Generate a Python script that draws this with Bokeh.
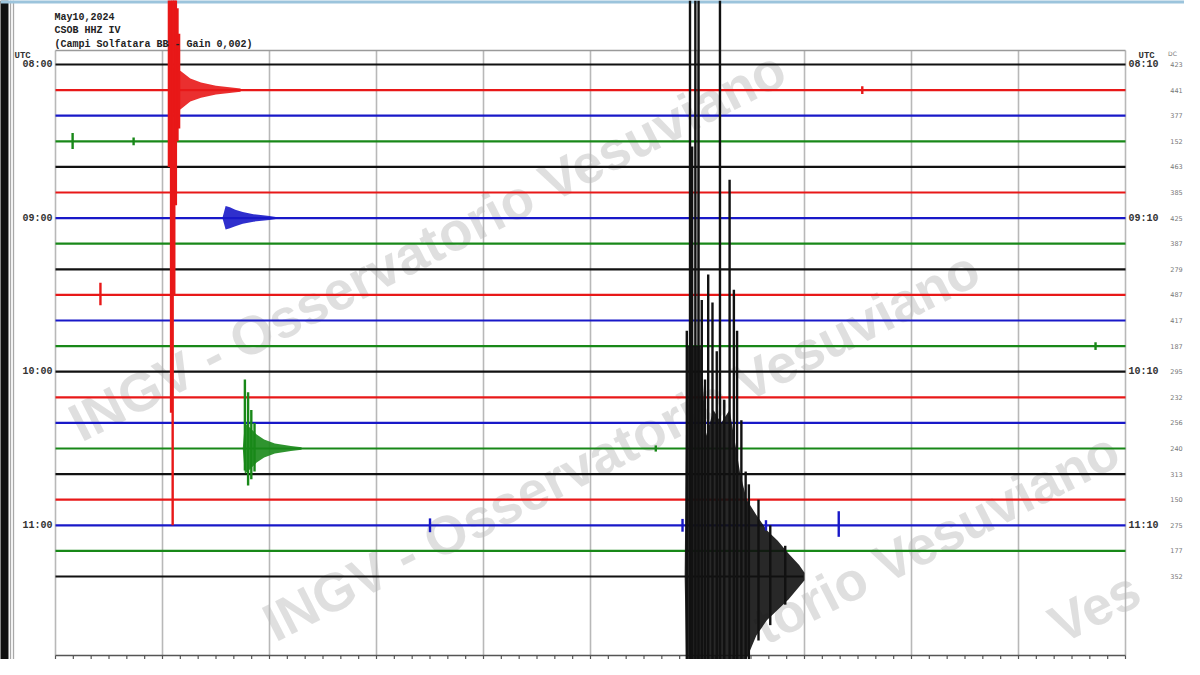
import numpy as np
from bokeh.plotting import figure
from bokeh.models import Range1d, ColumnDataSource
from bokeh.embed import file_html
from bokeh.resources import INLINE
from bokeh.core.properties import value

# ------------------------------------------------------------------ data
header_lines = ["May10,2024", "CSOB HHZ IV", "(Campi Solfatara BB - Gain 0,002)"]
row_count = 21
row_minutes = 10
last_row_end = 6.99            # minutes recorded on the last (current) row
hour_rows = [0, 6, 12, 18]
start_labels = ["08:00", "09:00", "10:00", "11:00"]
end_labels = ["08:10", "09:10", "10:10", "11:10"]
dc_values = [423, 441, 377, 152, 463, 385, 425, 387, 279, 487, 417,
             187, 295, 232, 256, 240, 313, 150, 275, 177, 352]
trace_colors = ["#111111", "#e81818", "#1818c8", "#188818"]
watermark_texts = ["INGV - Osservatorio Vesuviano", "INGV - Osservatorio Vesuviano",
                   "torio Vesuviano", "Ves"]

# spikes: row, minute, amplitude up, amplitude down (in trace spacings)
spike_row = [1, 1, 1, 1, 1, 1, 1,
             20, 20, 20, 20, 20, 20, 20, 20, 20, 20, 20, 20, 20, 20, 20, 20, 20, 20, 20, 20, 20,
             15, 15, 15, 15,
             3, 3, 9, 18, 18, 18, 18, 1, 11, 15]
spike_min = [1.06, 1.08, 1.095, 1.11, 1.125, 1.14, 1.155,
             5.90, 5.93, 5.95, 5.98, 6.01, 6.04, 6.07, 6.10, 6.14, 6.18, 6.21, 6.25, 6.30, 6.34, 6.37, 6.41, 6.45, 6.48, 6.57, 6.68, 6.82,
             1.77, 1.80, 1.83, 1.86,
             0.16, 0.73, 0.42, 3.50, 5.86, 6.64, 7.32, 7.54, 9.72, 5.61]
spike_up = [3.6, 3.6, 3.6, 3.6, 3.6, 3.2, 2.2,
            9.6, 22.5, 16.8, 22.5, 22.5, 10.8, 7.7, 11.8, 10.7, 8.8, 22.5, 6.9, 15.5, 11.2, 9.6, 6.1, 4.1, 3.6, 3.0, 2.0, 1.2,
            2.7, 2.2, 1.5, 1.0,
            0.32, 0.15, 0.47, 0.27, 0.25, 0.2, 0.55, 0.15, 0.15, 0.12]
spike_down = [3.0, 12.6, 17.0, 8.0, 4.5, 2.0, 1.5,
              4.8, 4.8, 4.8, 4.8, 4.8, 4.8, 4.8, 4.8, 4.8, 4.8, 4.8, 4.8, 4.8, 4.8, 4.8, 4.8, 4.5, 3.3, 2.5, 1.9, 1.1,
              0.86, 1.45, 1.2, 0.9,
              0.3, 0.15, 0.4, 0.27, 0.25, 0.2, 0.45, 0.15, 0.15, 0.12]

# coda envelopes
red_row = 1
red_min = [1.06, 1.10, 1.17, 1.26, 1.36, 1.50, 1.73]
red_up = [0.0, 0.9, 0.75, 0.45, 0.3, 0.17, 0.06]
red_down = [0.0, 0.9, 0.75, 0.45, 0.3, 0.17, 0.06]

blue_row = 6
blue_min = [1.56, 1.59, 1.63, 1.68, 1.75, 1.85, 2.00, 2.06]
blue_up = [0.0, 0.47, 0.42, 0.33, 0.24, 0.15, 0.08, 0.04]
blue_down = [0.0, 0.45, 0.40, 0.32, 0.22, 0.14, 0.07, 0.04]

green_row = 15
green_min = [1.75, 1.77, 1.82, 1.88, 1.95, 2.05, 2.20, 2.30]
green_up = [0.0, 1.0, 0.8, 0.55, 0.35, 0.2, 0.1, 0.05]
green_down = [0.0, 1.0, 0.8, 0.55, 0.35, 0.2, 0.1, 0.05]

black_row = 20
black_min = [5.88, 5.90, 6.03, 6.08, 6.15, 6.22, 6.30, 6.40, 6.46, 6.55, 6.65, 6.75, 6.85, 6.95, 7.00]
black_up = [0.0, 9.0, 9.0, 5.5, 6.5, 6.0, 6.5, 4.0, 3.0, 2.4, 1.8, 1.4, 0.9, 0.45, 0.15]
black_down = [0.0, 4.8, 4.8, 4.8, 4.8, 4.8, 4.8, 4.6, 3.2, 2.3, 1.7, 1.3, 0.9, 0.4, 0.15]

# ------------------------------------------------------------------ layout helpers (reference pixels -> data)
W, H = 1184, 659


def mx(px):
    return (px - 55.0) / 107.0


def ry(py):
    return (py - 64.0) / 25.6


p = figure(width=W, height=H,
           x_range=Range1d(mx(0), mx(W)), y_range=Range1d(ry(H), ry(0)),
           output_backend="svg", toolbar_location=None, min_border=0,
           x_axis_location=None, y_axis_location=None)
p.grid.visible = False
p.outline_line_color = None
p.background_fill_color = "white"
p.border_fill_color = "white"

# watermark
wm_x = [mx(86), mx(280), mx(770), mx(1066)]
wm_y = [ry(452), ry(652), ry(655), ry(654)]
p.text(x=wm_x, y=wm_y, text=watermark_texts, angle=27, angle_units="deg",
       text_font=value("Liberation Sans"), text_font_style="bold", text_font_size="54px",
       text_color="#c4c4c4", text_alpha=0.55, text_baseline="bottom", text_align="left")

# frame and grid
frame_top, frame_bottom = ry(50), ry(655)
p.segment(x0=list(range(row_minutes + 1)), x1=list(range(row_minutes + 1)),
          y0=[frame_top] * (row_minutes + 1), y1=[frame_bottom] * (row_minutes + 1),
          line_color="#b8b8b8", line_width=1.6)
p.segment(x0=[0], x1=[row_minutes], y0=[frame_top], y1=[frame_top], line_color="#9a9a9a", line_width=1.3)
p.segment(x0=[0], x1=[row_minutes], y0=[frame_bottom], y1=[frame_bottom], line_color="#555555", line_width=1.5)
ticks = np.arange(0, row_minutes + 1e-9, 1 / 6)
p.segment(x0=ticks, x1=ticks, y0=[frame_bottom] * len(ticks), y1=[ry(665)] * len(ticks),
          line_color="#555555", line_width=1.2)
# outer screenshot borders
for px in (10, 13):
    p.segment(x0=[mx(px)], x1=[mx(px)], y0=[ry(0)], y1=[ry(680)], line_color="#a8a8a8", line_width=1.3)
p.segment(x0=[mx(0)], x1=[mx(0)], y0=[ry(0)], y1=[ry(680)], line_color="#111111", line_width=16)
p.segment(x0=[mx(0)], x1=[mx(W)], y0=[ry(0)], y1=[ry(0)], line_color="#9cc4dc", line_width=6)

# traces
for r in range(row_count):
    end = row_minutes if r < row_count - 1 else last_row_end
    c = trace_colors[r % 4]
    p.line(x=[0, end], y=[r, r], line_color=c, line_width=2.2)

# codas
for rr, tt, uu, dd in ((red_row, red_min, red_up, red_down),
                       (blue_row, blue_min, blue_up, blue_down),
                       (green_row, green_min, green_up, green_down),
                       (black_row, black_min, black_up, black_down)):
    c = trace_colors[rr % 4]
    p.varea(x=tt, y1=[rr - u for u in uu], y2=[rr + d for d in dd], fill_color=c, fill_alpha=0.9)

# spikes
sp = ColumnDataSource(dict(
    x=spike_min,
    y0=[r - u for r, u in zip(spike_row, spike_up)],
    y1=[r + d for r, d in zip(spike_row, spike_down)],
    c=[trace_colors[r % 4] for r in spike_row]))
p.segment(x0="x", x1="x", y0="y0", y1="y1", line_color="c", line_width=2.4, source=sp)

# header
mono = value("Liberation Mono")
p.text(x=[mx(54)] * 3, y=[ry(17), ry(30), ry(44)], text=header_lines,
       text_font=mono, text_font_style="bold", text_font_size="10px",
       text_color="#222222", text_baseline="middle", text_align="left")

# time labels
p.text(x=[mx(52)] * 4, y=hour_rows, text=start_labels, text_font=mono, text_font_style="bold",
       text_font_size="10px", text_color="#333333", text_baseline="middle", text_align="right")
p.text(x=[mx(1128)] * 4, y=hour_rows, text=end_labels, text_font=mono, text_font_style="bold",
       text_font_size="10px", text_color="#333333", text_baseline="middle", text_align="left")
p.text(x=[mx(14), mx(1138)], y=[ry(55), ry(55)], text=["UTC", "UTC"], text_font=mono,
       text_font_style="bold", text_font_size="9px", text_color="#333333",
       text_baseline="middle", text_align="left")
p.text(x=[mx(1172)], y=[ry(53)], text=["DC"], text_font=value("DejaVu Sans"),
       text_font_size="6px", text_color="#777777", text_baseline="middle", text_align="center")
p.text(x=[mx(1176)] * row_count, y=list(range(row_count)), text=[str(v) for v in dc_values],
       text_font=value("DejaVu Sans"), text_font_size="6.5px", text_color="#777777",
       text_baseline="middle", text_align="center")

open("out.html", "w").write(file_html(p, INLINE))
